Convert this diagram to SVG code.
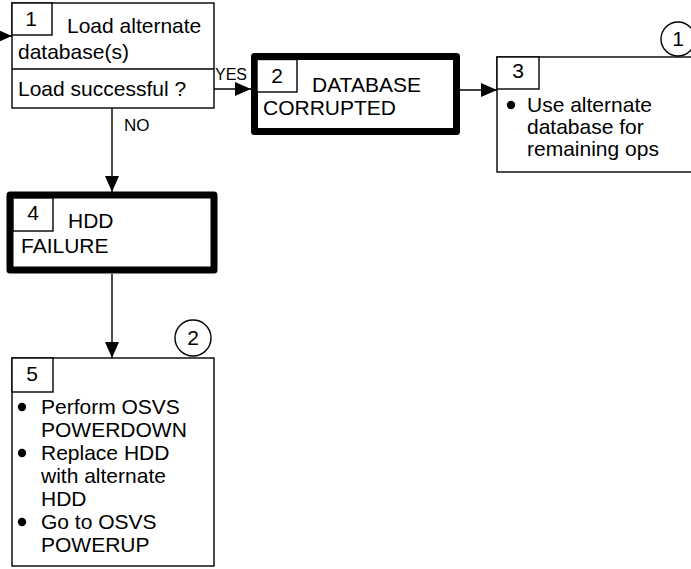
<svg xmlns="http://www.w3.org/2000/svg" width="691" height="569" viewBox="0 0 691 569">
<style>
.box{fill:#fff;stroke:#000;stroke-width:1.4}
.thick{fill:#fff;stroke:#000;stroke-width:7;stroke-linejoin:round}
.ln{fill:none;stroke:#000;stroke-width:1.4}
.t{font-family:"Liberation Sans",Arial,sans-serif;font-size:21px;fill:#000}
.s{font-family:"Liberation Sans",Arial,sans-serif;font-size:16px;fill:#000}
.c{text-anchor:middle}
</style>
<defs>
<marker id="ah" markerUnits="userSpaceOnUse" markerWidth="16" markerHeight="14" refX="16" refY="7" orient="auto">
<path d="M0,0 L16,7 L0,14 Z" fill="#000"/>
</marker>
</defs>
<rect width="691" height="569" fill="#fff"/>
<g id="connectors">
<line class="ln" x1="0" y1="36" x2="12" y2="36" marker-end="url(#ah)"/>
<line class="ln" x1="214" y1="89" x2="251" y2="89" marker-end="url(#ah)"/>
<line class="ln" x1="460" y1="90" x2="497" y2="90" marker-end="url(#ah)"/>
<line class="ln" x1="112" y1="108" x2="112" y2="192" marker-end="url(#ah)"/>
<line class="ln" x1="112" y1="274" x2="112" y2="358" marker-end="url(#ah)"/>
<text class="s" x="215" y="80">YES</text>
<text class="s" x="124" y="131" style="font-size:17px">NO</text>
</g>
<g id="node1">
<rect class="box" x="12" y="3" width="202" height="105"/>
<line class="ln" x1="12" y1="69" x2="214" y2="69"/>
<rect class="box" x="12" y="3" width="40" height="32"/>
<text class="t c" x="31" y="26">1</text>
<text class="t" x="67" y="33">Load alternate</text>
<text class="t" x="18" y="59">database(s)</text>
<text class="t" x="18" y="96">Load successful ?</text>
</g>
<g id="node2">
<rect class="thick" x="254.5" y="56.5" width="202" height="75"/>
<rect class="box" x="257" y="59.5" width="40" height="32.5"/>
<text class="t c" x="277" y="83">2</text>
<text class="t" x="312" y="92">DATABASE</text>
<text class="t" x="263" y="115">CORRUPTED</text>
</g>
<g id="node3">
<rect class="box" x="497" y="57" width="196" height="115"/>
<rect class="box" x="497" y="57" width="42" height="32"/>
<text class="t c" x="518" y="78">3</text>
<circle cx="511" cy="105" r="4.2"/>
<text class="t" x="527" y="112">Use alternate</text>
<text class="t" x="527" y="134">database for</text>
<text class="t" x="527" y="156">remaining ops</text>
</g>
<g id="callout1">
<circle class="box" cx="678" cy="39" r="17"/>
<text class="t c" x="678" y="46">1</text>
</g>
<g id="node4">
<rect class="thick" x="10" y="195" width="204" height="75"/>
<rect class="box" x="13" y="198" width="40" height="33"/>
<text class="t c" x="33" y="220">4</text>
<text class="t" x="68" y="228">HDD</text>
<text class="t" x="21" y="253">FAILURE</text>
</g>
<g id="callout2">
<circle class="box" cx="193" cy="338" r="18"/>
<text class="t c" x="193" y="345">2</text>
</g>
<g id="node5">
<rect class="box" x="12" y="358" width="202" height="208"/>
<rect class="box" x="12" y="358" width="41" height="34"/>
<text class="t c" x="32" y="381">5</text>
<circle cx="22" cy="407" r="4.2"/>
<text class="t" x="41" y="414">Perform OSVS</text>
<text class="t" x="41" y="437">POWERDOWN</text>
<circle cx="22" cy="453" r="4.2"/>
<text class="t" x="41" y="460">Replace HDD</text>
<text class="t" x="41" y="483">with alternate</text>
<text class="t" x="41" y="506">HDD</text>
<circle cx="22" cy="522" r="4.2"/>
<text class="t" x="41" y="529">Go to OSVS</text>
<text class="t" x="41" y="552">POWERUP</text>
</g>
</svg>
